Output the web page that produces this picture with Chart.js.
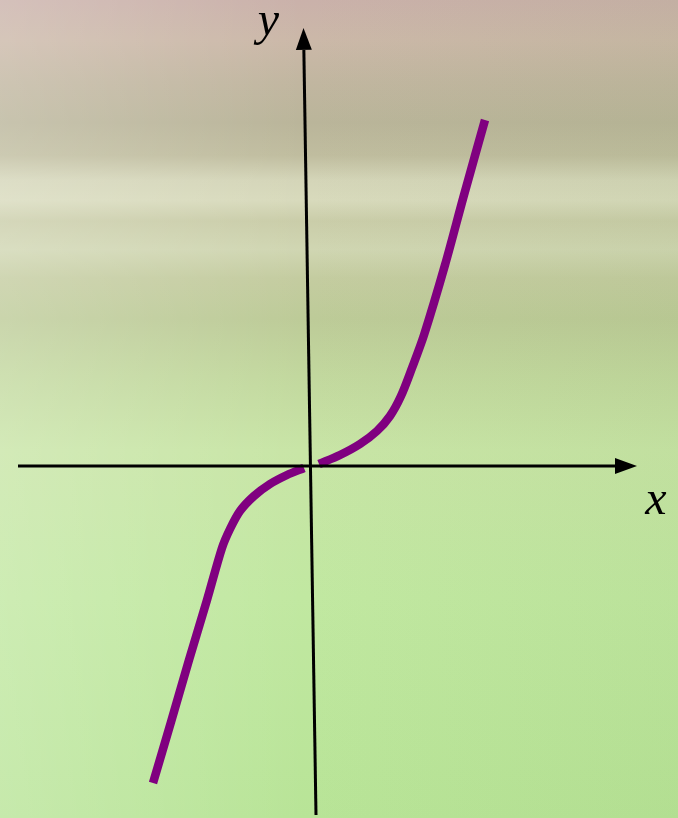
<!DOCTYPE html>
<html>
<head>
<meta charset="utf-8">
<script src="https://cdn.jsdelivr.net/npm/chart.js@4/dist/chart.umd.min.js"></script>
<style>
  html, body { margin: 0; padding: 0; }
  #wrap {
    width: 678px; height: 818px; position: relative;
    background:
      linear-gradient(to right, rgba(255,255,255,0.20), rgba(255,255,255,0) 45%, rgba(110,150,70,0.07) 100%),
      linear-gradient(to bottom,
        #cab1aa 0%, #cbb8a8 5%, #c1b6a0 10%, #bab59a 15%, #c0bd9f 19%,
        #d4d5b8 22%, #d8dabc 24.5%, #cacda9 27%, #d0d6b2 30.5%, #c4cca0 34%,
        #bdcb98 39%, #c2d89e 46%, #c8e5a6 55%, #c1e8a1 73%, #b8e497 100%);
  }
</style>
</head>
<body>
<div id="wrap"><canvas id="myChart" width="678" height="818"></canvas></div>
<script>
'use strict'

// curve (two branches, small gap at the origin)
var leftX  = [-1.57, -1.39, -1.21, -1.03, -0.88, -0.80, -0.70, -0.56, -0.40, -0.23, -0.06];
var leftY  = [-3.17, -2.56, -1.94, -1.34, -0.82, -0.63, -0.45, -0.30, -0.18, -0.09, -0.02];
var rightX = [0.09, 0.30, 0.50, 0.67, 0.80, 0.91, 1.02, 1.14, 1.35, 1.54, 1.75];
var rightY = [0.02, 0.11, 0.22, 0.35, 0.50, 0.70, 0.98, 1.31, 2.01, 2.71, 3.46];

// axis lines: start point and arrow tip
var xAxisLine = [[-2.92, 0], [3.27, 0]];
var yAxisLine = [[0.06, -3.49], [-0.065, 4.38]];
var axisNames = ['x', 'y'];

function pts(xs, ys) {
    return xs.map(function (x, i) { return { x: x, y: ys[i] }; });
}

var arrows = {
    id: 'arrows',
    afterDatasetsDraw: function (chart) {
        var c = chart.ctx, sx = chart.scales.x, sy = chart.scales.y;
        var lines = [xAxisLine, yAxisLine];
        var labelOff = [[19, 48], [-35, 7]];
        c.save();
        lines.forEach(function (ln, k) {
            var x0 = sx.getPixelForValue(ln[0][0]), y0 = sy.getPixelForValue(ln[0][1]);
            var x1 = sx.getPixelForValue(ln[1][0]), y1 = sy.getPixelForValue(ln[1][1]);
            var a = Math.atan2(y1 - y0, x1 - x0);
            var len = 22, half = 8;
            var bx = x1 - Math.cos(a) * len, by = y1 - Math.sin(a) * len;
            c.strokeStyle = '#000';
            c.lineWidth = 3;
            c.beginPath();
            c.moveTo(x0, y0);
            c.lineTo(bx, by);
            c.stroke();
            c.fillStyle = '#000';
            c.beginPath();
            c.moveTo(x1, y1);
            c.lineTo(bx - Math.sin(a) * half, by + Math.cos(a) * half);
            c.lineTo(bx + Math.sin(a) * half, by - Math.cos(a) * half);
            c.closePath();
            c.fill();
            c.font = 'italic 48px "Liberation Serif", "DejaVu Serif", serif';
            c.textAlign = 'center';
            c.textBaseline = 'alphabetic';
            c.fillText(axisNames[k], x1 + labelOff[k][0], y1 + labelOff[k][1]);
        });
        c.restore();
    }
};

var ctx = document.getElementById('myChart').getContext('2d');
var myChart = new Chart(ctx, {
    type: 'scatter',
    data: {
        datasets: [{
            data: pts(leftX, leftY),
            showLine: true,
            borderColor: '#800080',
            borderWidth: 8.5,
            borderCapStyle: 'butt',
            tension: 0.3,
            pointRadius: 0
        }, {
            data: pts(rightX, rightY),
            showLine: true,
            borderColor: '#800080',
            borderWidth: 8.5,
            borderCapStyle: 'butt',
            tension: 0.3,
            pointRadius: 0
        }]
    },
    options: {
        responsive: false,
        animation: false,
        layout: { padding: 0 },
        plugins: {
            legend: { display: false },
            tooltip: { enabled: false }
        },
        scales: {
            x: { type: 'linear', display: false, min: -3.10, max: 3.68 },
            y: { type: 'linear', display: false, min: -3.52, max: 4.66 }
        }
    },
    plugins: [arrows]
});
</script>
</body>
</html>
